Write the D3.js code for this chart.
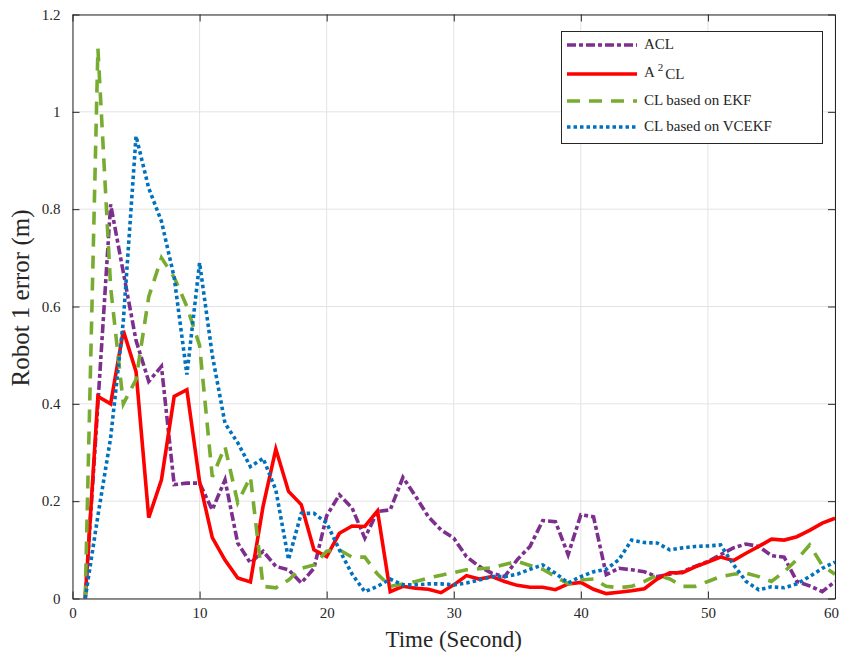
<!DOCTYPE html>
<html>
<head>
<meta charset="utf-8">
<script src="https://cdn.jsdelivr.net/npm/d3@7"></script>
<style>
  body { margin: 0; background: #fff; }
  text { font-family: "Liberation Serif", "Times New Roman", serif; fill: #262626; }
</style>
</head>
<body>
<script>
// time steps (seconds)
var time = [1,2,3,4,5,6,7,8,9,10,11,12,13,14,15,16,17,18,19,20,
            21,22,23,24,25,26,27,28,29,30,31,32,33,34,35,36,37,38,39,40,
            41,42,43,44,45,46,47,48,49,50,51,52,53,54,55,56,57,58,59,60];

// robot 1 error
var acl = [0, 0.40, 0.81, 0.67, 0.53, 0.446, 0.477, 0.234, 0.237, 0.237,
           0.182, 0.244, 0.114, 0.073, 0.097, 0.066, 0.059, 0.032, 0.062, 0.17,
           0.213, 0.186, 0.124, 0.179, 0.182, 0.249, 0.21, 0.168, 0.141, 0.124,
           0.086, 0.066, 0.052, 0.045, 0.08, 0.107, 0.16, 0.158, 0.09, 0.172,
           0.168, 0.049, 0.062, 0.059, 0.055, 0.045, 0.05, 0.055, 0.066, 0.076,
           0.09, 0.104, 0.112, 0.107, 0.088, 0.085, 0.035, 0.026, 0.014, 0.035];

var a2cl = [0, 0.415, 0.40, 0.55, 0.466, 0.166, 0.244, 0.415, 0.429, 0.24,
            0.125, 0.079, 0.042, 0.034, 0.19, 0.307, 0.22, 0.193, 0.10, 0.086,
            0.134, 0.149, 0.148, 0.18, 0.014, 0.025, 0.021, 0.019, 0.012, 0.028,
            0.047, 0.04, 0.045, 0.035, 0.027, 0.023, 0.023, 0.018, 0.03, 0.033,
            0.019, 0.01, 0.013, 0.016, 0.02, 0.04, 0.053, 0.053, 0.065, 0.075,
            0.085, 0.078, 0.093, 0.107, 0.122, 0.12, 0.127, 0.14, 0.155, 0.165];

var ekf = [0, 1.13, 0.64, 0.40, 0.45, 0.62, 0.70, 0.66, 0.60, 0.52,
           0.25, 0.312, 0.197, 0.25, 0.025, 0.022, 0.038, 0.062, 0.069, 0.097,
           0.1, 0.085, 0.085, 0.05, 0.025, 0.03, 0.035, 0.042, 0.048, 0.053,
           0.059, 0.061, 0.063, 0.07, 0.076, 0.068, 0.06, 0.045, 0.03, 0.038,
           0.04, 0.025, 0.022, 0.025, 0.035, 0.048, 0.04, 0.025, 0.025, 0.035,
           0.045, 0.05, 0.052, 0.045, 0.035, 0.055, 0.08, 0.11, 0.068, 0.05];

var vcekf = [0, 0.17, 0.33, 0.57, 0.95, 0.843, 0.775, 0.66, 0.46, 0.69,
             0.5, 0.36, 0.32, 0.271, 0.288, 0.223, 0.08, 0.175, 0.175, 0.155,
             0.1, 0.05, 0.014, 0.025, 0.04, 0.028, 0.028, 0.03, 0.03, 0.028,
             0.032, 0.038, 0.045, 0.045, 0.05, 0.06, 0.069, 0.052, 0.032, 0.045,
             0.055, 0.06, 0.08, 0.12, 0.115, 0.114, 0.1, 0.104, 0.107, 0.108,
             0.11, 0.07, 0.035, 0.018, 0.024, 0.022, 0.03, 0.045, 0.062, 0.075];

var seriesNames = ["ACL", "A2CL", "CL based on EKF", "CL based on VCEKF"];
var xTicks = [0, 10, 20, 30, 40, 50, 60];
var yTicks = [0, 0.2, 0.4, 0.6, 0.8, 1, 1.2];

var width = 841, height = 659;
var pLeft = 72.5, pRight = 835, pTop = 14.5, pBottom = 598.5;

var svg = d3.select("body").append("svg")
    .attr("width", width)
    .attr("height", height);

var x = d3.scaleLinear().domain([0, 60]).range([pLeft, pRight]);
var y = d3.scaleLinear().domain([0, 1.2]).range([pBottom, pTop]);

// grid
svg.append("g").selectAll("line")
    .data(xTicks).enter().append("line")
    .attr("x1", function(d) { return x(d); }).attr("x2", function(d) { return x(d); })
    .attr("y1", pTop).attr("y2", pBottom)
    .attr("stroke", "#e3e3e3").attr("stroke-width", 1);
svg.append("g").selectAll("line")
    .data(yTicks).enter().append("line")
    .attr("y1", function(d) { return y(d); }).attr("y2", function(d) { return y(d); })
    .attr("x1", pLeft).attr("x2", pRight)
    .attr("stroke", "#e3e3e3").attr("stroke-width", 1);

svg.append("clipPath").attr("id", "clip")
  .append("rect").attr("x", pLeft).attr("y", pTop)
    .attr("width", pRight - pLeft).attr("height", pBottom - pTop);

var series = [
    {name: "ACL", values: acl, color: "#7E2F8E", dash: "9,3,4,3"},
    {name: "A2CL", values: a2cl, color: "#FF0000", dash: null},
    {name: "EKF", values: ekf, color: "#77AC30", dash: "13,9"},
    {name: "VCEKF", values: vcekf, color: "#0072BD", dash: "3.5,3"}
];

var line = d3.line()
    .x(function(d, i) { return x(time[i]); })
    .y(function(d) { return y(d); });

var plot = svg.append("g").attr("clip-path", "url(#clip)");
series.forEach(function(s) {
    plot.append("path")
        .datum(s.values)
        .attr("d", line)
        .attr("fill", "none")
        .attr("stroke", s.color)
        .attr("stroke-width", 3.6)
        .attr("stroke-dasharray", s.dash)
        .attr("stroke-linejoin", "miter");
});

// axes with inward ticks on all sides
var ax = svg.append("g");
var xb = ax.append("g").attr("transform", "translate(0," + pBottom + ")")
    .call(d3.axisBottom(x).tickValues(xTicks).tickSizeInner(-7).tickSizeOuter(0).tickPadding(9));
ax.append("g").attr("transform", "translate(0," + pTop + ")")
    .call(d3.axisTop(x).tickValues(xTicks).tickSizeInner(-7).tickSizeOuter(0).tickFormat(""));
ax.append("g").attr("transform", "translate(" + pLeft + ",0)")
    .call(d3.axisLeft(y).tickValues(yTicks).tickSizeInner(-7).tickSizeOuter(0).tickPadding(12)
        .tickFormat(function(d) { return String(+d.toFixed(1)); }));
ax.append("g").attr("transform", "translate(" + pRight + ",0)")
    .call(d3.axisRight(y).tickValues(yTicks).tickSizeInner(-7).tickSizeOuter(0).tickFormat(""));
ax.selectAll(".domain").attr("stroke", "#262626");
ax.selectAll(".tick line").attr("stroke", "#262626");
ax.selectAll(".tick text")
    .style("font-family", "'Liberation Serif', serif")
    .style("font-size", "15px")
    .attr("fill", "#262626");
// keep the last x label inside the window
xb.selectAll(".tick text").filter(function(d) { return d === 60; }).attr("dx", -4);

// axis labels
svg.append("text")
    .attr("x", (pLeft + pRight) / 2).attr("y", 647)
    .attr("text-anchor", "middle")
    .style("font-size", "23px")
    .text("Time (Second)");
svg.append("text")
    .attr("transform", "translate(29,298) rotate(-90)")
    .attr("text-anchor", "middle")
    .style("font-size", "25px")
    .text("Robot 1 error (m)");

// legend
var lg = svg.append("g");
lg.append("rect")
    .attr("x", 561.5).attr("y", 31.5).attr("width", 261).attr("height", 112)
    .attr("fill", "#fff").attr("stroke", "#262626").attr("stroke-width", 1);
var rowY = [45, 74, 101, 127];
series.forEach(function(s, i) {
    lg.append("line")
        .attr("x1", 567).attr("x2", 637)
        .attr("y1", rowY[i]).attr("y2", rowY[i])
        .attr("stroke", s.color).attr("stroke-width", 3.6)
        .attr("stroke-dasharray", s.dash);
    var t = lg.append("text")
        .attr("x", 644).attr("y", rowY[i] + 4)
        .style("font-size", "15px");
    if (s.name === "A2CL") {
        t.attr("y", rowY[i] + 3);
        t.append("tspan").text("A");
        t.append("tspan").attr("dx", 3).attr("dy", -6).style("font-size", "11px").text("2");
        t.append("tspan").attr("dx", 2).attr("dy", 8).text("CL");
    } else {
        t.text(seriesNames[i]);
    }
});
</script>
</body>
</html>
